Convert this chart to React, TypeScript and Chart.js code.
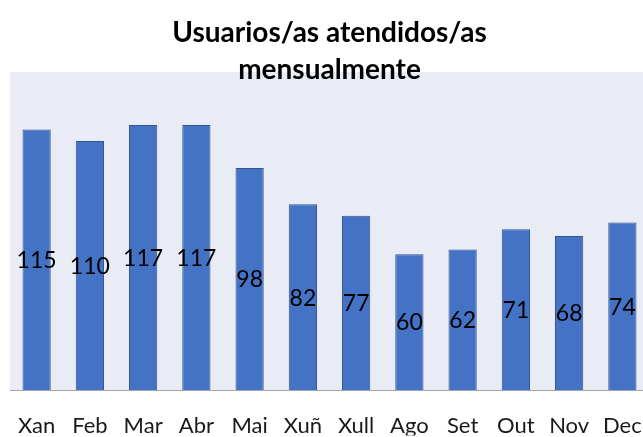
import React, { useEffect, useRef } from "react";
import { Chart, registerables } from "chart.js";

Chart.register(...registerables);

const months = ["Xan", "Feb", "Mar", "Abr", "Mai", "Xuñ", "Xull", "Ago", "Set", "Out", "Nov", "Dec"];
const users = [115, 110, 117, 117, 98, 82, 77, 60, 62, 71, 68, 74];
const titleLines = ["Usuarios/as atendidos/as", "mensualmente"];

const FONT = "Lato, 'Open Sans', sans-serif";

const plotBg = {
  id: "plotBg",
  beforeDraw(chart: any) {
    const { ctx, chartArea } = chart;
    ctx.save();
    ctx.fillStyle = "#E9EBF5";
    ctx.fillRect(chartArea.left, chartArea.top - 1, chartArea.right - chartArea.left, chartArea.bottom - chartArea.top + 1);
    ctx.restore();
  },
};

const centerLabels = {
  id: "centerLabels",
  afterDatasetsDraw(chart: any) {
    const { ctx } = chart;
    const meta = chart.getDatasetMeta(0);
    const data = chart.data.datasets[0].data as number[];
    ctx.save();
    ctx.fillStyle = "#000000";
    ctx.font = `23px ${FONT}`;
    ctx.textAlign = "center";
    ctx.textBaseline = "middle";
    meta.data.forEach((el: any, i: number) => {
      const p = el.getProps(["x", "y", "base"], true);
      ctx.fillText(String(data[i]), p.x, (p.y + p.base) / 2 + 1);
    });
    ctx.restore();
  },
};

export default function App() {
  const ref = useRef<HTMLCanvasElement | null>(null);
  useEffect(() => {
    const canvas = ref.current!;
    const chart = new Chart(canvas, {
      type: "bar",
      data: {
        labels: months,
        datasets: [
          {
            data: users,
            backgroundColor: "#4472C4",
            borderColor: "#2F5597",
            borderWidth: 1,
            barPercentage: 0.53,
            categoryPercentage: 1,
          },
        ],
      },
      options: {
        responsive: false,
        animation: false,
        devicePixelRatio: 1,
        layout: { padding: { left: 10, right: 11, top: 0, bottom: 1.5 } },
        plugins: {
          legend: { display: false },
          tooltip: { enabled: false },
          title: {
            display: true,
            text: titleLines,
            color: "#000000",
            font: { family: FONT, size: 28, weight: "bold", lineHeight: 37 / 28 },
            padding: { top: 14, bottom: -15 },
          },
        },
        scales: {
          x: {
            grid: { display: false, drawTicks: true, tickLength: 26.5 },
            border: { display: true, color: "#A6A6A6", width: 1 },
            ticks: { color: "#1a1a1a", font: { family: FONT, size: 22, lineHeight: 0.5 }, padding: 4, maxRotation: 0, autoSkip: false },
          },
          y: { display: false, min: 0, max: 140 },
        },
      },
      plugins: [plotBg, centerLabels],
    });
    return () => chart.destroy();
  }, []);
  return (
    <div style={{ position: "fixed", left: 0, top: 0, width: 643, height: 437, overflow: "hidden", background: "#fff" }}>
      <canvas ref={ref} width={660} height={437} style={{ width: 660, height: 437, display: "block" }} />
    </div>
  );
}
